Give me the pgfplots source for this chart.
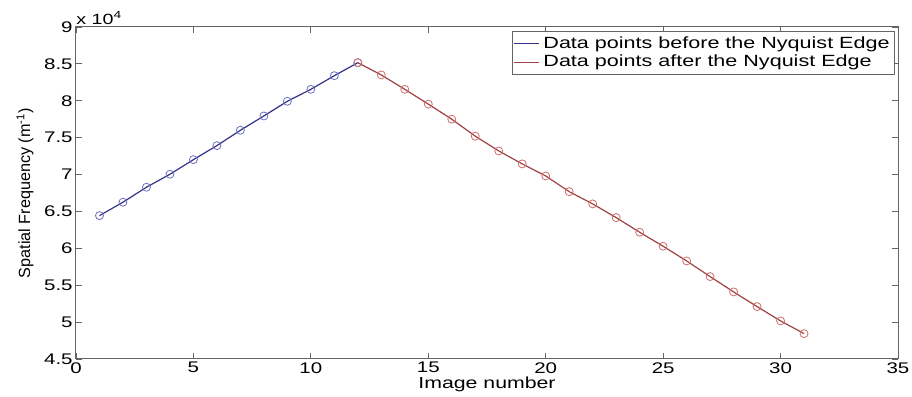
\documentclass[border=0pt]{standalone}
\usepackage{fontspec}
\setmainfont{Liberation Sans}[FakeStretch=1.33]
\newfontfamily\ylabfont{Liberation Sans}
\usepackage{pgfplots}
\pgfplotsset{compat=1.18}
\definecolor{bline}{RGB}{50,50,135}
\definecolor{bmark}{RGB}{110,110,190}
\definecolor{rline}{RGB}{160,65,65}
\definecolor{rmark}{RGB}{205,110,110}
\definecolor{axgray}{RGB}{100,100,100}
\begin{document}
\begin{tikzpicture}
\begin{axis}[
  scale only axis, width=411pt, height=166pt,
  xmin=0, xmax=35, ymin=45000, ymax=90000,
  xtick={0,5,...,35},
  ytick={45000,50000,...,90000},
  yticklabels={4.5,5,5.5,6,6.5,7,7.5,8,8.5,9},
  scaled y ticks=false,
  /pgf/number format/assume math mode=true,
  tick align=inside, major tick length=3pt,
  axis line style={axgray, line width=0.5pt},
  tick style={axgray, line width=0.4pt},
  ticklabel style={font=\fontsize{7.7}{8.5}\selectfont},
  xticklabel style={inner sep=1.5pt},
  yticklabel style={inner sep=1.5pt},
  xlabel={Image number},
  ylabel={\ylabfont Spatial Frequency (m\textsuperscript{-1})},
  x label style={at={(axis description cs:0.5,0)}, anchor=base, yshift=-15pt, font=\fontsize{8}{9.6}\selectfont},
  y label style={at={(axis description cs:-0.062,0.5)}, anchor=center, font=\fontsize{8.1}{9.6}\selectfont},
  legend style={at={(rel axis cs:1,1)}, anchor=north east, xshift=-1.5pt, yshift=-2pt,
    draw=axgray, line width=0.4pt, font=\fontsize{8.1}{9}\selectfont, inner sep=0.5pt, row sep=-2pt},
  legend cell align=left,
  legend image code/.code={\draw[#1, mark=none] (0pt,0pt) -- (12.5pt,0pt);},
]
\addplot[color=bline, line width=0.6pt, mark=o, mark size=2pt, mark options={draw=bmark, line width=0.4pt}]
  coordinates {
  (1,64430) (2,66250) (3,68280) (4,70040) (5,72020) (6,73920)
  (7,76000) (8,77940) (9,79930) (10,81550) (11,83400) (12,85160)
  };
\addlegendentry{Data points before the Nyquist Edge}
\addplot[color=rline, line width=0.6pt, mark=o, mark size=2pt, mark options={draw=rmark, line width=0.4pt}]
  coordinates {
  (12,85160) (13,83500) (14,81550) (15,79550) (16,77500) (17,75200)
  (18,73200) (19,71440) (20,69810) (21,67680) (22,66020) (23,64160)
  (24,62180) (25,60280) (26,58290) (27,56170) (28,54090) (29,52100)
  (30,50160) (31,48440)
  };
\addlegendentry{Data points after the Nyquist Edge}
\coordinate (sw) at (rel axis cs:0,0);
\coordinate (ne) at (rel axis cs:1,1);
\coordinate (nw) at (rel axis cs:0,1);
\end{axis}
\node[anchor=base west, font=\fontsize{7.4}{8}\selectfont, inner sep=0pt] at ([yshift=1pt]nw) {x 10\textsuperscript{4}};
\pgfresetboundingbox
\path[use as bounding box] ([xshift=-38pt,yshift=-19pt]sw) rectangle ([xshift=7pt,yshift=13.5pt]ne);
\end{tikzpicture}
\end{document}
